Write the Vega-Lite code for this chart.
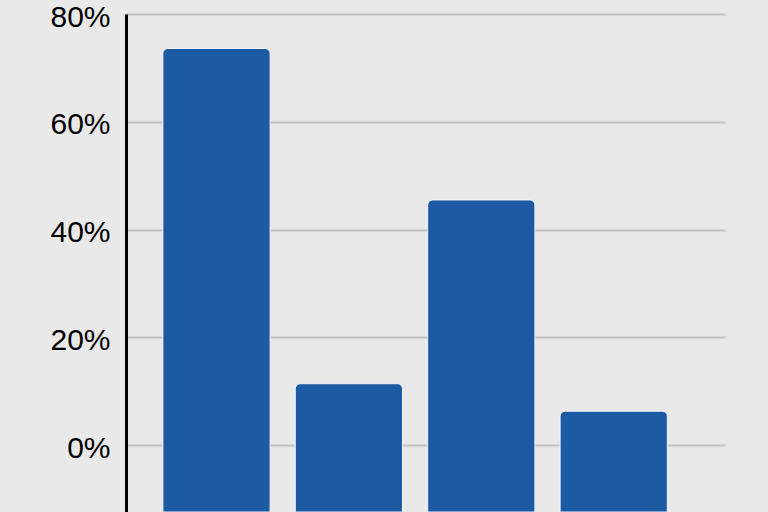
{
  "$schema": "https://vega.github.io/schema/vega-lite/v6.json",
  "autosize": {"type": "none"},
  "width": 599,
  "height": 498,
  "padding": {"left": 126, "top": 14, "right": 43, "bottom": 0},
  "background": "#e9e9e9",
  "config": {"view": {"stroke": null}, "font": "Liberation Sans"},
  "data": {"values": [
    {"category": "A", "value": 73.6},
    {"category": "B", "value": 11.4},
    {"category": "C", "value": 45.5},
    {"category": "D", "value": 6.3}
  ]},
  "mark": {"type": "bar", "color": "#1c5aa4", "cornerRadiusTopLeft": 5, "cornerRadiusTopRight": 5, "stroke": "#f4f6fa", "strokeWidth": 1, "clip": true},
  "encoding": {
    "x": {"field": "category", "type": "nominal", "axis": null, "scale": {"paddingInner": 0.19, "paddingOuter": 0.357, "align": 0.39}},
    "y": {"field": "value", "type": "quantitative", "scale": {"domain": [-12.4, 80], "nice": false, "zero": false},
      "axis": {"values": [0, 20, 40, 60, 80], "labelExpr": "datum.value + '%'", "title": null, "ticks": false, "labelPadding": 16, "labelOffset": 3, "labelFontSize": 30, "labelColor": "#000000", "domainColor": "#000000", "domainWidth": 3, "gridColor": "#c2c2c2", "gridWidth": 2, "labelFont": "Liberation Sans"}},
    "y2": {"datum": -12.4}
  }
}
